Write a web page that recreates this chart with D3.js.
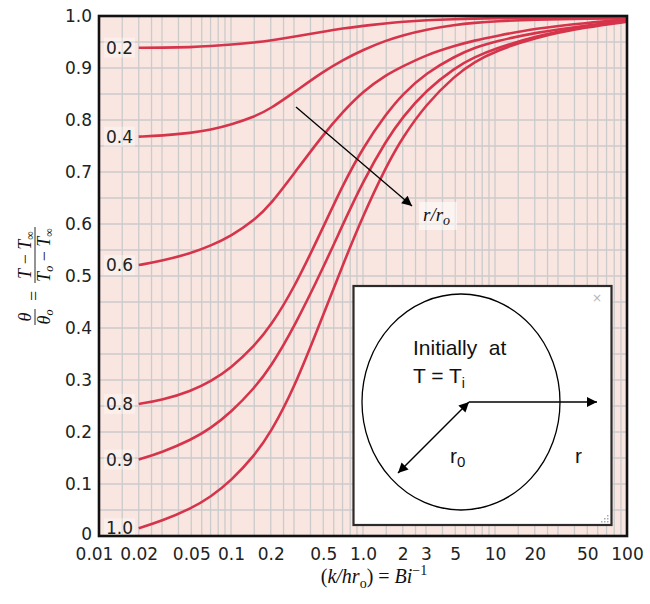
<!DOCTYPE html>
<html><head><meta charset="utf-8">
<script src="https://cdn.jsdelivr.net/npm/d3@7"></script>
<style>body{margin:0;background:#fff} svg{display:block}</style>
</head><body><svg id="c" width="650" height="604"></svg>
<script>
// ---- data ----
const biInv = [0.02, 0.03, 0.05, 0.07, 0.1, 0.15, 0.2, 0.3, 0.5, 0.7, 1, 1.5, 2, 3, 5, 7, 10, 20, 50, 100];
const curveLabels = ["0.2", "0.4", "0.6", "0.8", "0.9", "1.0"];
const r02 = [0.939, 0.939, 0.940, 0.942, 0.945, 0.949, 0.953, 0.960, 0.970, 0.976, 0.981, 0.986, 0.989, 0.992, 0.994, 0.995, 0.996, 0.996, 0.996, 0.996];
const r04 = [0.768, 0.770, 0.775, 0.781, 0.791, 0.806, 0.822, 0.853, 0.893, 0.915, 0.935, 0.953, 0.963, 0.974, 0.983, 0.987, 0.990, 0.993, 0.995, 0.996];
const r06 = [0.521, 0.529, 0.544, 0.558, 0.577, 0.607, 0.638, 0.697, 0.772, 0.815, 0.855, 0.887, 0.903, 0.925, 0.943, 0.953, 0.961, 0.976, 0.987, 0.993];
const r08 = [0.254, 0.261, 0.279, 0.297, 0.323, 0.365, 0.404, 0.476, 0.594, 0.674, 0.747, 0.812, 0.850, 0.890, 0.923, 0.939, 0.951, 0.968, 0.982, 0.991];
const r09 = [0.147, 0.161, 0.185, 0.207, 0.238, 0.284, 0.325, 0.401, 0.516, 0.598, 0.682, 0.761, 0.806, 0.857, 0.901, 0.921, 0.937, 0.961, 0.981, 0.990];
const r10 = [0.015, 0.029, 0.053, 0.075, 0.106, 0.154, 0.199, 0.283, 0.425, 0.520, 0.616, 0.711, 0.767, 0.830, 0.886, 0.912, 0.932, 0.959, 0.979, 0.989];
const seriesValues = [r02, r04, r06, r08, r09, r10];
const xTicks = [0.01, 0.02, 0.05, 0.1, 0.2, 0.5, 1, 2, 3, 5, 10, 20, 50, 100];
const xTickLabels = ["0.01", "0.02", "0.05", "0.1", "0.2", "0.5", "1.0", "2", "3", "5", "10", "20", "50", "100"];
const yTicks = [0, 0.1, 0.2, 0.3, 0.4, 0.5, 0.6, 0.7, 0.8, 0.9, 1.0];
const yTickLabels = ["0", "0.1", "0.2", "0.3", "0.4", "0.5", "0.6", "0.7", "0.8", "0.9", "1.0"];
const gridMultipliers = [1, 1.5, 2, 2.5, 3, 4, 5, 6, 7, 8, 9];
const decades = [0.01, 0.1, 1, 10];

// ---- layout ----
const L = 99, R = 627, T = 16, B = 536;
const svg = d3.select("#c");
const x = d3.scaleLog().domain([0.01, 100]).range([L, R]);
const y = d3.scaleLinear().domain([0, 1]).range([B, T]);
const RED = "#d6344b";

svg.append("rect").attr("x", L).attr("y", T).attr("width", R - L).attr("height", B - T).attr("fill", "#f9e6e1");

// grid
const vGrid = [];
decades.forEach(d => gridMultipliers.forEach(m => vGrid.push(d * m)));
vGrid.push(100);
const g = svg.append("g").attr("stroke", "#cbcbcb").attr("stroke-width", 1.3);
g.selectAll("line.v").data(vGrid).join("line").attr("class", "v")
  .attr("x1", d => x(d)).attr("x2", d => x(d)).attr("y1", T).attr("y2", B);
const hGrid = d3.range(0, 1.0001, 0.05);
g.selectAll("line.h").data(hGrid).join("line").attr("class", "h")
  .attr("x1", L).attr("x2", R).attr("y1", d => y(d)).attr("y2", d => y(d));

// curves
const line = d3.line().x(d => x(d[0])).y(d => y(d[1])).curve(d3.curveBasis);
const series = seriesValues.map((vals, i) => ({ label: curveLabels[i], pts: biInv.map((b, j) => [b, vals[j]]) }));
svg.append("g").selectAll("path").data(series).join("path")
  .attr("d", d => line(d.pts)).attr("fill", "none").attr("stroke", RED).attr("stroke-width", 2.6);

// curve labels
const lab = svg.append("g");
series.forEach(s => {
  const yy = y(s.pts[0][1]);
  lab.append("rect").attr("x", 104).attr("y", yy - 10).attr("width", 31).attr("height", 20)
    .attr("fill", "#ffffff").attr("opacity", 0.35);
  lab.append("text").attr("x", 133).attr("y", yy).attr("dy", "0.35em").attr("text-anchor", "end")
    .attr("font-family", "DejaVu Sans").attr("font-size", 17).attr("fill", "#222").text(s.label);
});

// markers
const defs = svg.append("defs");
defs.append("marker").attr("id", "ah").attr("viewBox", "0 0 10 10").attr("refX", 10).attr("refY", 5)
  .attr("markerUnits", "userSpaceOnUse").attr("markerWidth", 14).attr("markerHeight", 10).attr("orient", "auto-start-reverse")
  .append("path").attr("d", "M0,0 L10,5 L0,10 Z").attr("fill", "#000");

// r/ro arrow
svg.append("line").attr("x1", 296).attr("y1", 107).attr("x2", 412).attr("y2", 206)
  .attr("stroke", "#000").attr("stroke-width", 1.3).attr("marker-end", "url(#ah)");
svg.append("rect").attr("x", 419).attr("y", 202).attr("width", 38).attr("height", 28).attr("fill", "#fff").attr("opacity", 0.55);
const rr = svg.append("text").attr("x", 423).attr("y", 221).attr("font-family", "Liberation Serif").attr("font-size", 19)
  .attr("font-style", "italic").attr("fill", "#111");
rr.append("tspan").text("r/r");
rr.append("tspan").attr("dy", 4).attr("font-size", 14).text("o");

// inset
const inset = svg.append("g");
inset.append("rect").attr("x", 353.5).attr("y", 286).attr("width", 258).attr("height", 239)
  .attr("fill", "#fff").attr("stroke", "#2b2b2b").attr("stroke-width", 2.2);
inset.append("text").attr("x", 597).attr("y", 302).attr("text-anchor", "middle").attr("font-family", "DejaVu Sans")
  .attr("font-size", 12).attr("fill", "#b5b5b5").text("×");
[[607, 521], [604, 521], [607, 518], [601, 521], [604, 518], [607, 515]].forEach(p =>
  inset.append("rect").attr("x", p[0]).attr("y", p[1]).attr("width", 1.5).attr("height", 1.5).attr("fill", "#aaa"));
inset.append("ellipse").attr("cx", 461).attr("cy", 402).attr("rx", 99).attr("ry", 108)
  .attr("fill", "none").attr("stroke", "#000").attr("stroke-width", 1.3);
inset.append("text").attr("x", 413).attr("y", 355).attr("font-family", "Liberation Sans").attr("font-size", 21)
  .attr("fill", "#111").attr("xml:space", "preserve").text("Initially  at");
const tt = inset.append("text").attr("x", 413).attr("y", 383).attr("font-family", "Liberation Sans").attr("font-size", 21).attr("fill", "#111");
tt.append("tspan").text("T = T");
tt.append("tspan").attr("dy", 5).attr("font-size", 14).text("i");
inset.append("line").attr("x1", 469).attr("y1", 402).attr("x2", 597).attr("y2", 402)
  .attr("stroke", "#000").attr("stroke-width", 1.4).attr("marker-end", "url(#ah)");
inset.append("line").attr("x1", 469).attr("y1", 402).attr("x2", 398).attr("y2", 473)
  .attr("stroke", "#000").attr("stroke-width", 1.4).attr("marker-end", "url(#ah)").attr("marker-start", "url(#ah)");
const r0 = inset.append("text").attr("x", 450).attr("y", 463).attr("font-family", "Liberation Sans").attr("font-size", 21).attr("fill", "#111");
r0.append("tspan").text("r");
r0.append("tspan").attr("dy", 4).attr("font-size", 15).text("0");
inset.append("text").attr("x", 575).attr("y", 463).attr("font-family", "Liberation Sans").attr("font-size", 21).attr("fill", "#111").text("r");

// frame
svg.append("rect").attr("x", L).attr("y", T).attr("width", R - L).attr("height", B - T)
  .attr("fill", "none").attr("stroke", "#111").attr("stroke-width", 2.6);

// axes
const xAxis = d3.axisBottom(x).tickValues(xTicks).tickFormat((d, i) => xTickLabels[i]).tickSize(0).tickPadding(12);
const xa = svg.append("g").attr("transform", `translate(0,${B})`).call(xAxis);
xa.select(".domain").remove();
xa.selectAll("text").attr("font-family", "DejaVu Sans").attr("font-size", 17).attr("fill", "#222")
  .attr("dx", (d, i) => i === 0 ? -5 : 0);
const yAxis = d3.axisLeft(y).tickValues(yTicks).tickFormat((d, i) => yTickLabels[i]).tickSize(0).tickPadding(7);
const ya = svg.append("g").attr("transform", `translate(${L},0)`).call(yAxis);
ya.select(".domain").remove();
ya.selectAll("text").attr("font-family", "DejaVu Sans").attr("font-size", 17).attr("fill", "#222")
  .attr("dy", (d, i) => i === 0 ? "0.2em" : "0.32em");

// x title
const xt = svg.append("text").attr("x", 374).attr("y", 583).attr("text-anchor", "middle")
  .attr("font-family", "Liberation Serif").attr("font-size", 20).attr("fill", "#111");
xt.append("tspan").text("(");
xt.append("tspan").attr("font-style", "italic").text("k/hr");
xt.append("tspan").attr("dy", 5).attr("font-size", 14).text("o");
xt.append("tspan").attr("dy", -5).text(") = ");
xt.append("tspan").attr("font-style", "italic").text("Bi");
xt.append("tspan").attr("dy", -8).attr("font-size", 14).text("−1");

// y title (rotated, stacked fractions)
const yt = svg.append("g").attr("transform", "translate(35,276) rotate(-90)")
  .attr("font-family", "Liberation Serif").attr("font-size", 18).attr("fill", "#111");
function frac(cx, num, den, w) {
  yt.append("line").attr("x1", cx - w / 2).attr("x2", cx + w / 2).attr("y1", 0).attr("y2", 0).attr("stroke", "#111").attr("stroke-width", 0.9);
  const n = yt.append("text").attr("x", cx).attr("y", -4).attr("text-anchor", "middle");
  num(n);
  const dd = yt.append("text").attr("x", cx).attr("y", 15).attr("text-anchor", "middle");
  den(dd);
}
frac(-41, t => t.append("tspan").attr("font-style", "italic").text("θ"),
  t => { t.append("tspan").attr("font-style", "italic").text("θ"); t.append("tspan").attr("dy", 3).attr("font-size", 12).attr("font-style", "italic").text("o"); }, 16);
yt.append("text").attr("x", -20).attr("y", 5).attr("text-anchor", "middle").text("=");
frac(21, t => {
  t.append("tspan").attr("font-style", "italic").text("T");
  t.append("tspan").text(" − ");
  t.append("tspan").attr("font-style", "italic").text("T");
  t.append("tspan").attr("dy", 3).attr("font-size", 12).text("∞");
}, t => {
  t.append("tspan").attr("font-style", "italic").text("T");
  t.append("tspan").attr("dy", 3).attr("font-size", 12).attr("font-style", "italic").text("o");
  t.append("tspan").attr("dy", -3).text(" − ");
  t.append("tspan").attr("font-style", "italic").text("T");
  t.append("tspan").attr("dy", 3).attr("font-size", 12).text("∞");
}, 56);
</script></body></html>
